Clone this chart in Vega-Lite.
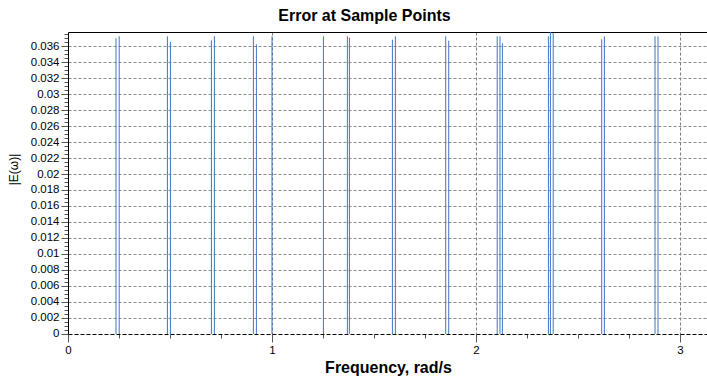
{
  "$schema": "https://vega.github.io/schema/vega-lite/v6.json",
  "autosize": "none",
  "padding": {"left": 68, "top": 32, "right": 0, "bottom": 43},
  "width": 640.9,
  "height": 302,
  "background": "white",
  "config": {
    "view": {"stroke": null},
    "font": "Liberation Sans"
  },
  "title": {
    "text": "Error at Sample Points",
    "font": "Liberation Sans",
    "fontSize": 16,
    "fontWeight": "bold",
    "color": "#000000",
    "anchor": "middle",
    "frame": "group",
    "baseline": "alphabetic",
    "offset": -9,
    "dx": -24
  },
  "data": {
    "values": [
      {"freq": 0.2353, "err": 0.03696},
      {"freq": 0.2510, "err": 0.03721},
      {"freq": 0.4873, "err": 0.03721},
      {"freq": 0.5020, "err": 0.03654},
      {"freq": 0.7029, "err": 0.03671},
      {"freq": 0.7176, "err": 0.03721},
      {"freq": 0.9088, "err": 0.03721},
      {"freq": 0.9235, "err": 0.03621},
      {"freq": 1.0000, "err": 0.03721},
      {"freq": 1.2520, "err": 0.03721},
      {"freq": 1.3696, "err": 0.03721},
      {"freq": 1.3794, "err": 0.03704},
      {"freq": 1.5902, "err": 0.03679},
      {"freq": 1.6049, "err": 0.03721},
      {"freq": 1.8515, "err": 0.03721},
      {"freq": 1.8662, "err": 0.03666},
      {"freq": 2.1039, "err": 0.03721},
      {"freq": 2.1176, "err": 0.03721},
      {"freq": 2.1294, "err": 0.03634},
      {"freq": 2.3549, "err": 0.03721},
      {"freq": 2.3647, "err": 0.03775},
      {"freq": 2.3784, "err": 0.03763},
      {"freq": 2.6162, "err": 0.03684},
      {"freq": 2.6294, "err": 0.03721},
      {"freq": 2.8775, "err": 0.03721},
      {"freq": 2.8922, "err": 0.03721}
    ]
  },
  "layer": [
    {
      "mark": {"type": "rule", "color": "#3e75c6", "strokeWidth": 1},
      "encoding": {
        "x": {
          "field": "freq",
          "type": "quantitative",
          "scale": {"domain": [0, 3.14159], "nice": false, "zero": false},
          "axis": {
            "orient": "bottom",
            "title": "Frequency, rad/s",
            "titleFont": "Liberation Sans",
            "titleFontSize": 16,
            "titleFontWeight": "bold",
            "titleColor": "#000000",
            "titleBaseline": "alphabetic",
            "titleX": 320,
            "titleY": 39,
            "values": [0, 0.25, 0.5, 0.75, 1, 1.25, 1.5, 1.75, 2, 2.25, 2.5, 2.75, 3],
            "labelExpr": "datum.value % 1 === 0 ? format(datum.value, '~g') : ''",
            "labelFont": "Liberation Sans",
            "labelFontSize": 11.5,
            "labelColor": "#000000",
            "labelPadding": 3,
            "labelFlush": false,
            "labelOverlap": false,
            "tickColor": "#555555",
            "tickSize": {"condition": {"test": "datum.value % 1 === 0", "value": 8}, "value": 4},
            "domainColor": "#000000",
            "domainDash": [4, 2],
            "domainWidth": 1,
            "grid": true,
            "gridColor": "#7a7a7a",
            "gridDash": [3, 2],
            "gridWidth": 1,
            "gridOpacity": {"condition": {"test": "datum.value % 1 === 0 && datum.value > 0", "value": 1}, "value": 0}
          }
        },
        "y": {
          "field": "err",
          "type": "quantitative",
          "scale": {"domain": [0, 0.03775], "nice": false},
          "axis": {
            "title": "|E(ω)|",
            "titleFont": "Liberation Sans",
            "titleFontSize": 12,
            "titleFontWeight": "normal",
            "titleColor": "#000000",
            "titleAngle": -90,
            "titleX": -54,
            "titleY": 137,
            "titleBaseline": "middle",
            "titleAlign": "center",
            "values": [0, 0.0005, 0.001, 0.0015, 0.002, 0.0025, 0.003, 0.0035, 0.004, 0.0045, 0.005, 0.0055, 0.006, 0.0065, 0.007, 0.0075, 0.008, 0.0085, 0.009, 0.0095, 0.01, 0.0105, 0.011, 0.0115, 0.012, 0.0125, 0.013, 0.0135, 0.014, 0.0145, 0.015, 0.0155, 0.016, 0.0165, 0.017, 0.0175, 0.018, 0.0185, 0.019, 0.0195, 0.02, 0.0205, 0.021, 0.0215, 0.022, 0.0225, 0.023, 0.0235, 0.024, 0.0245, 0.025, 0.0255, 0.026, 0.0265, 0.027, 0.0275, 0.028, 0.0285, 0.029, 0.0295, 0.03, 0.0305, 0.031, 0.0315, 0.032, 0.0325, 0.033, 0.0335, 0.034, 0.0345, 0.035, 0.0355, 0.036, 0.0365, 0.037, 0.0375],
            "labelExpr": "abs(datum.value * 500 - round(datum.value * 500)) < 0.001 ? format(datum.value, '~g') : ''",
            "labelFont": "Liberation Sans",
            "labelFontSize": 11.5,
            "labelColor": "#000000",
            "labelPadding": 2,
            "labelFlush": false,
            "labelOverlap": false,
            "tickColor": "#555555",
            "tickSize": {"condition": {"test": "abs(datum.value * 500 - round(datum.value * 500)) < 0.001", "value": 7}, "value": 4},
            "domainColor": "#000000",
            "domainWidth": 1,
            "grid": true,
            "gridColor": "#8c8c8c",
            "gridDash": [3, 2],
            "gridWidth": 1,
            "gridOpacity": {"condition": {"test": "abs(datum.value * 500 - round(datum.value * 500)) < 0.001 && datum.value > 0", "value": 1}, "value": 0}
          }
        },
        "y2": {"datum": 0}
      }
    },
    {
      "mark": {"type": "rule", "opacity": 0},
      "encoding": {
        "x": {
          "field": "freq",
          "type": "quantitative",
          "axis": {
            "orient": "top",
            "title": null,
            "labels": false,
            "ticks": false,
            "grid": false,
            "domainColor": "#000000",
            "domainWidth": 1
          }
        }
      }
    }
  ],
  "resolve": {"axis": {"x": "independent"}}
}
